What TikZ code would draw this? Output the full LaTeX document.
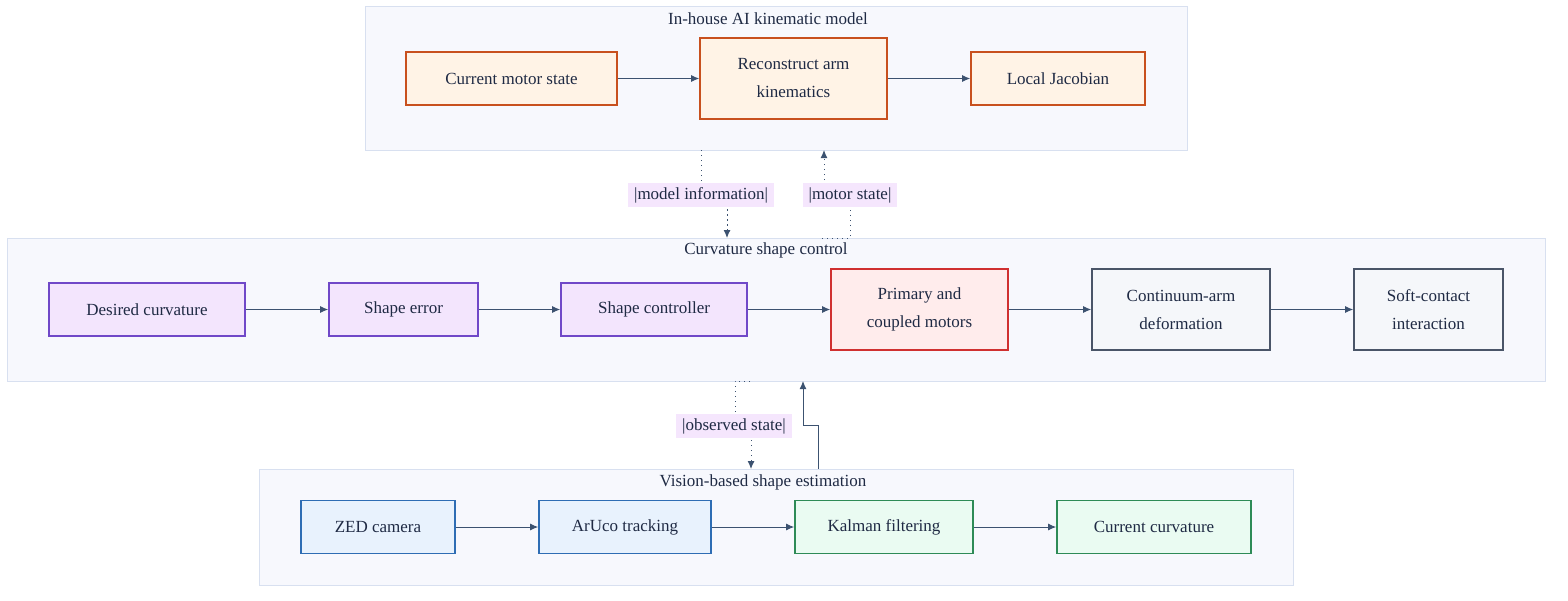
\documentclass[tikz,border=0pt]{standalone}
\usepackage{fontspec}
\setmainfont{Liberation Serif}
\usetikzlibrary{arrows.meta,positioning,calc}

\definecolor{clusterFill}{HTML}{F7F8FD}
\definecolor{clusterLine}{HTML}{D8E0F0}
\definecolor{flowLine}{HTML}{3C5270}
\definecolor{textInk}{HTML}{1F2A44}
\definecolor{labelFill}{HTML}{F5E6FD}
\definecolor{modelLine}{HTML}{C8501E}\definecolor{modelFill}{HTML}{FFF3E6}
\definecolor{ctrlLine}{HTML}{7048C8}\definecolor{ctrlFill}{HTML}{F3E5FD}
\definecolor{motorLine}{HTML}{D03030}\definecolor{motorFill}{HTML}{FFECEC}
\definecolor{armLine}{HTML}{4A5568}\definecolor{armFill}{HTML}{F5F7FA}
\definecolor{camLine}{HTML}{2E6DB4}\definecolor{camFill}{HTML}{E8F2FD}
\definecolor{filtLine}{HTML}{2E8B57}\definecolor{filtFill}{HTML}{EAFBF2}

\tikzset{
  cluster/.style={draw=clusterLine, fill=clusterFill, line width=0.5pt, inner sep=0pt},
  clusterTitle/.style={font=\fontsize{8.5}{10}\selectfont, text=textInk, inner sep=0pt},
  procBox/.style={draw, line width=0.8pt, minimum height=26.5pt, inner sep=2pt,
                  align=center, text=textInk, font=\fontsize{8.5}{14}\selectfont},
  modelBox/.style={procBox, draw=modelLine, fill=modelFill},
  ctrlBox/.style={procBox, draw=ctrlLine, fill=ctrlFill},
  motorBox/.style={procBox, draw=motorLine, fill=motorFill, minimum height=40.5pt},
  armBox/.style={procBox, draw=armLine, fill=armFill, minimum height=40.5pt},
  camBox/.style={procBox, draw=camLine, fill=camFill},
  filtBox/.style={procBox, draw=filtLine, fill=filtFill},
  flow/.style={draw=flowLine, line width=0.5pt, -{Latex[length=4pt,width=3.5pt]}},
  link/.style={draw=flowLine, line width=0.5pt, dotted},
  edgeLabel/.style={fill=labelFill, text=textInk, inner xsep=3pt, inner ysep=2pt,
                    font=\fontsize{8.5}{10}\selectfont}
}

\begin{document}
\begin{tikzpicture}[x=0.5pt, y=-0.5pt]
  \useasboundingbox (0,0) rectangle (1568,600);

  % clusters
  \node[cluster, minimum width=411pt, minimum height=72pt] (top) at (776,78) {};
  \node[cluster, minimum width=769pt, minimum height=71.5pt] (mid) at (776,309.5) {};
  \node[cluster, minimum width=517pt, minimum height=58pt] (bot) at (776,527) {};
  \node[clusterTitle] at (768,19) {In-house AI kinematic model};
  \node[clusterTitle] at (766,250) {Curvature shape control};
  \node[clusterTitle] at (763,482) {Vision-based shape estimation};

  % kinematic model
  \node[modelBox, minimum width=105.5pt] (motor) at (511.5,78.5) {Current motor state};
  \node[modelBox, minimum width=93.5pt, minimum height=40.5pt] (recon) at (793.5,78.5) {Reconstruct arm\\kinematics};
  \node[modelBox, minimum width=87pt] (jac) at (1058,78.5) {Local Jacobian};

  % shape control
  \node[ctrlBox, minimum width=98pt] (desired) at (147,309.5) {Desired curvature};
  \node[ctrlBox, minimum width=74.5pt] (err) at (403.5,309.5) {Shape error};
  \node[ctrlBox, minimum width=93pt] (ctrl) at (654,309.5) {Shape controller};
  \node[motorBox, minimum width=88.5pt] (motors) at (919.5,309.5) {Primary and\\coupled motors};
  \node[armBox, minimum width=89pt] (deform) at (1181,309.5) {Continuum-arm\\deformation};
  \node[armBox, minimum width=74.5pt] (contact) at (1428.5,309.5) {Soft-contact\\interaction};

  % vision
  \node[camBox, minimum width=77pt] (zed) at (378,527) {ZED camera};
  \node[camBox, minimum width=86pt] (aruco) at (625,527) {ArUco tracking};
  \node[filtBox, minimum width=89pt] (kalman) at (884,527) {Kalman filtering};
  \node[filtBox, minimum width=97pt] (curv) at (1154,527) {Current curvature};

  \draw[flow] (motor) -- (recon);
  \draw[flow] (recon) -- (jac);
  \draw[flow] (desired) -- (err);
  \draw[flow] (err) -- (ctrl);
  \draw[flow] (ctrl) -- (motors);
  \draw[flow] (motors) -- (deform);
  \draw[flow] (deform) -- (contact);
  \draw[flow] (zed) -- (aruco);
  \draw[flow] (aruco) -- (kalman);
  \draw[flow] (kalman) -- (curv);

  % links between clusters
  \coordinate (infoTop) at (701,150);
  \coordinate (infoEnd) at (727,238);
  \coordinate (stateTop) at (824,150);
  \coordinate (stateEnd) at (822,238);
  \coordinate (obsTop) at (750,381);
  \coordinate (obsEnd) at (751,469);
  \coordinate (feedTop) at (803,381);
  \coordinate (feedEnd) at (818,469);

  \draw[link] (infoTop) -- (701,195) -| (infoEnd);
  \draw[flow, dotted] (727,200) -- (infoEnd);
  \draw[link] (stateEnd) -- (850,238) -- (850,195) -| (824,190);
  \draw[flow, dotted] (824,190) -- (stateTop);
  \draw[link] (obsTop) -- (735,381) -- (735,426) -| (751,430);
  \draw[flow, dotted] (751,430) -- (obsEnd);
  \draw[flow] (feedEnd) |- (803,425) -- (feedTop);

  \node[edgeLabel] (infoLbl) at (701,195) {|model information|};
  \node[edgeLabel] (stateLbl) at (850,195) {|motor state|};
  \node[edgeLabel] (obsLbl) at (734,426) {|observed state|};
\end{tikzpicture}
\end{document}
